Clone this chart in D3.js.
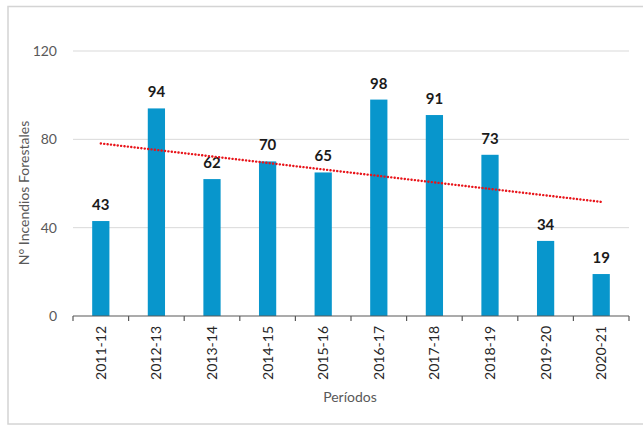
<!DOCTYPE html>
<html><head><meta charset="utf-8">
<script src="https://cdn.jsdelivr.net/npm/d3@7"></script>
<style>body{margin:0;background:#fff;}svg{display:block;font-family:Lato,"Open Sans",sans-serif;}</style>
</head><body>
<svg id="c" width="643" height="426"></svg>
<script>
const categories = ["2011-12","2012-13","2013-14","2014-15","2015-16","2016-17","2017-18","2018-19","2019-20","2020-21"];
const values = [43,94,62,70,65,98,91,73,34,19];
const yTicks = [0,40,80,120];

const svg = d3.select("#c");
const m = {left:73, right:629, top:51, bottom:316};
const x = d3.scaleBand().domain(categories).range([m.left, m.right]).paddingInner(0.69).paddingOuter(0.345);
const y = d3.scaleLinear().domain([0,120]).range([m.bottom, m.top]);

// outer border
svg.append("rect").attr("x",8).attr("y",6.5).attr("width",660).attr("height",417.5)
  .attr("fill","none").attr("stroke","#d4d4d4").attr("stroke-width",1.5);

// gridlines
svg.append("g").selectAll("line").data(yTicks.filter(d=>d>0)).join("line")
  .attr("x1",m.left).attr("x2",m.right).attr("y1",d=>y(d)).attr("y2",d=>y(d))
  .attr("stroke","#d9d9d9").attr("stroke-width",1);

// y labels
svg.append("g").selectAll("text").data(yTicks).join("text")
  .attr("x",57).attr("y",d=>y(d)).attr("dy","0.35em").attr("text-anchor","end")
  .attr("font-size",14).attr("fill","#595959").text(d=>d);

// bars
svg.append("g").selectAll("rect").data(values).join("rect")
  .attr("x",(d,i)=>x(categories[i])).attr("width",x.bandwidth())
  .attr("y",d=>y(d)).attr("height",d=>y(0)-y(d)).attr("fill","#0896cc");

// x axis
const xa = svg.append("g");
xa.append("line").attr("x1",m.left).attr("x2",m.right).attr("y1",y(0)).attr("y2",y(0)).attr("stroke","#595959").attr("stroke-width",1.2);
xa.selectAll("line.t").data(d3.range(categories.length+1)).join("line").attr("class","t")
  .attr("x1",i=>m.left+i*(m.right-m.left)/categories.length).attr("x2",i=>m.left+i*(m.right-m.left)/categories.length)
  .attr("y1",y(0)).attr("y2",y(0)+5).attr("stroke","#595959").attr("stroke-width",1.2);
xa.selectAll("text").data(categories).join("text")
  .attr("transform",d=>`translate(${x(d)+x.bandwidth()/2},${y(0)+10}) rotate(-90)`)
  .attr("text-anchor","end").attr("dy","0.35em").attr("font-size",14).attr("fill","#262626").text(d=>d);

// data labels
svg.append("g").selectAll("text").data(values).join("text")
  .attr("x",(d,i)=>x(categories[i])+x.bandwidth()/2).attr("y",d=>y(d)-11)
  .attr("text-anchor","middle").attr("font-size",15).attr("font-weight","bold").attr("fill","#1a1a1a").text(d=>d);

// trend line (least squares over the data)
const xs = values.map((d,i)=>i+1);
const mx = d3.mean(xs), my = d3.mean(values);
const slope = d3.sum(xs.map((xi,i)=>(xi-mx)*(values[i]-my)))/d3.sum(xs.map(xi=>(xi-mx)**2));
const icpt = my - slope*mx;
const tr = [1,categories.length].map(k=>[x(categories[k-1])+x.bandwidth()/2, y(icpt+slope*k)]);
svg.append("path").attr("d",d3.line()(tr)).attr("fill","none").attr("stroke","#e8141a")
  .attr("stroke-width",2.4).attr("stroke-dasharray","0.1,3.3").attr("stroke-linecap","round");

// axis titles
svg.append("text").attr("transform",`translate(24,193) rotate(-90)`)
  .attr("text-anchor","middle").attr("dy","0.35em").attr("font-size",14).attr("fill","#595959").text("N° Incendios Forestales");
svg.append("text").attr("x",350).attr("y",402).attr("text-anchor","middle")
  .attr("font-size",14).attr("fill","#595959").text("Períodos");
</script>
</body></html>
